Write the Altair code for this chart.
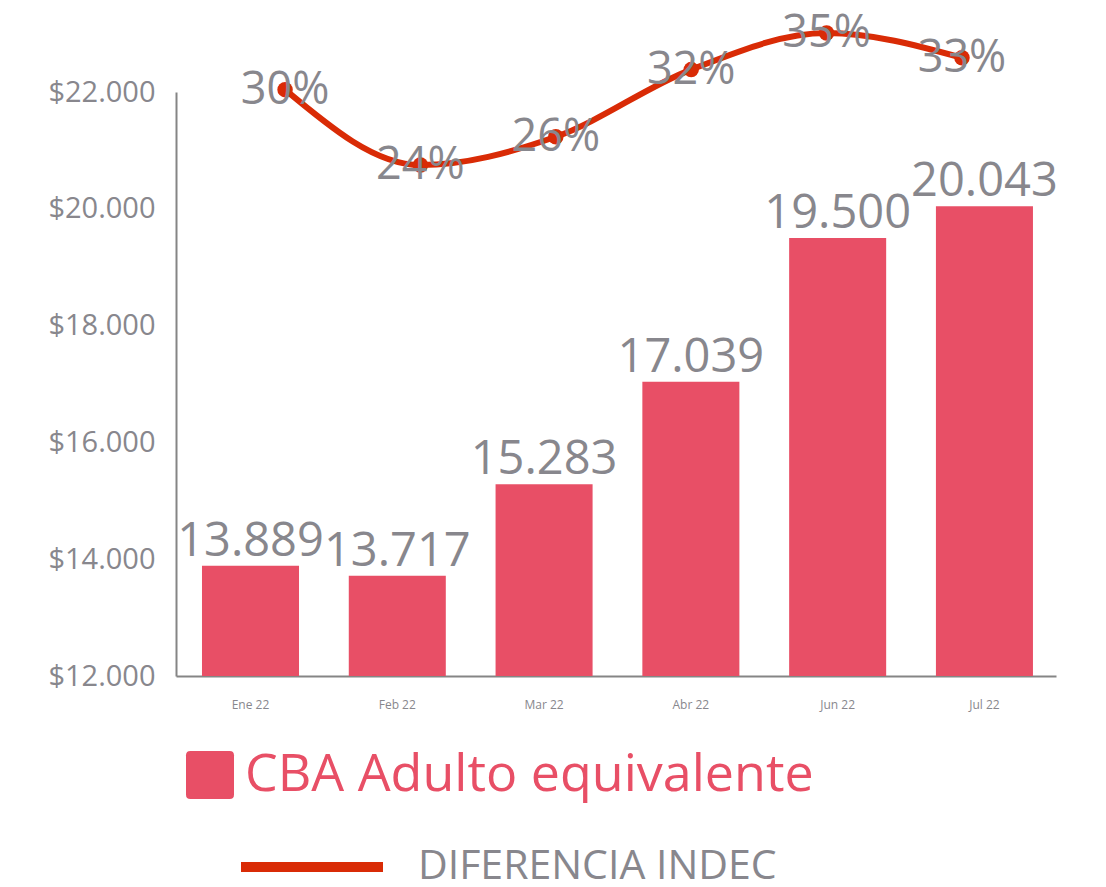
import altair as alt
import pandas as pd

meses = ["Ene 22", "Feb 22", "Mar 22", "Abr 22", "Jun 22", "Jul 22"]
cba = [13889, 13717, 15283, 17039, 19500, 20043]
dif = [30.2, 23.8, 26.2, 31.9, 35.0, 32.9]
y_ticks = [12000, 14000, 16000, 18000, 20000, 22000]
serie_barras = "CBA Adulto equivalente"
serie_linea = "DIFERENCIA INDEC"

df = pd.DataFrame({"mes": meses, "cba": cba, "dif": dif})
df["serie_bar"] = serie_barras
df["serie_line"] = serie_linea
df["cba_lbl"] = [f"{v:,}".replace(",", ".") for v in cba]

FONT = "Open Sans"
GRAY = "#88878d"
AXIS = "#858585"
PINK = "#e84f66"
RED = "#d92b06"

rounded_sq = ("M -0.82,-1 L 0.82,-1 Q 1,-1 1,-0.82 L 1,0.82 Q 1,1 0.82,1 "
              "L -0.82,1 Q -1,1 -1,0.82 L -1,-0.82 Q -1,-1 -0.82,-1 Z")

x_bar_scale = alt.Scale(paddingInner=0.339, paddingOuter=0.167, align=0.53)
y_bar_scale = alt.Scale(domain=[12000, 22000], nice=False, zero=False)

x_bar = alt.X("mes:N", sort=meses, title=None, scale=x_bar_scale,
              axis=alt.Axis(labelAngle=0, labelFontSize=12, labelColor=GRAY, labelFont=FONT,
                            ticks=False, labelPadding=23, domainColor=AXIS, domainWidth=2))
y_bar = alt.Y("cba:Q", title=None, scale=y_bar_scale,
              axis=alt.Axis(values=y_ticks,
                            labelExpr="'$' + replace(format(datum.value, ','), ',', '.')",
                            labelFontSize=29, labelColor=GRAY, labelFont=FONT, ticks=False,
                            grid=False, labelPadding=21, domainColor=AXIS, domainWidth=2))

bars = alt.Chart(df).mark_bar(clip=True).encode(
    x=x_bar, y=y_bar,
    fill=alt.Fill("serie_bar:N", scale=alt.Scale(range=[PINK]),
                  legend=alt.Legend(orient="none", legendX=8, legendY=657, title=None,
                                    symbolType=rounded_sq, symbolSize=2304, symbolStrokeWidth=0,
                                    labelFontSize=52, labelColor=PINK, labelFont=FONT,
                                    labelOffset=9, labelLimit=900, padding=0)),
)

bar_text = alt.Chart(df).mark_text(baseline="alphabetic", dy=-10, fontSize=47, font=FONT,
                                   color=GRAY).encode(
    x=x_bar, y=y_bar, text="cba_lbl:N",
)

x_line = alt.X("mes:N", sort=meses, scale=alt.Scale(type="point", padding=0.75, align=0.537),
               axis=None)
y_line = alt.Y("dif:Q", scale=alt.Scale(domain=[-19.55, 30.0], nice=False, zero=False),
               axis=None)

line = alt.Chart(df).mark_line(interpolate="monotone", strokeWidth=6, clip=False).encode(
    x=x_line, y=y_line,
    stroke=alt.Stroke("serie_line:N", scale=alt.Scale(range=[RED]),
                      legend=alt.Legend(orient="none", legendX=60, legendY=699, title=None,
                                        symbolType="stroke", symbolSize=20164,
                                        symbolStrokeWidth=10, labelFontSize=41,
                                        labelColor=GRAY, labelFont=FONT, labelOffset=30,
                                        labelLimit=900, padding=0)),
)

points = alt.Chart(df).mark_circle(size=240, color=RED, opacity=1, clip=False).encode(
    x=x_line, y=y_line)

ptext = alt.Chart(df).transform_calculate(
    lbl="format(datum.dif, '.0f') + '%'"
).mark_text(fontSize=45, font=FONT, color=GRAY, baseline="middle", clip=False).encode(
    x=x_line, y=y_line, text="lbl:N")

bar_layer = alt.layer(bars, bar_text)
line_layer = alt.layer(line, points, ptext)

chart = alt.layer(bar_layer, line_layer).resolve_scale(
    x="independent", y="independent"
).properties(
    width=880, height=584,
    autosize=alt.AutoSizeParams(type="none"),
    padding={"left": 168, "top": 84, "right": 42, "bottom": 203},
).configure_view(stroke=None)

chart.save("out.html", embed_options={"renderer": "svg", "actions": False})
